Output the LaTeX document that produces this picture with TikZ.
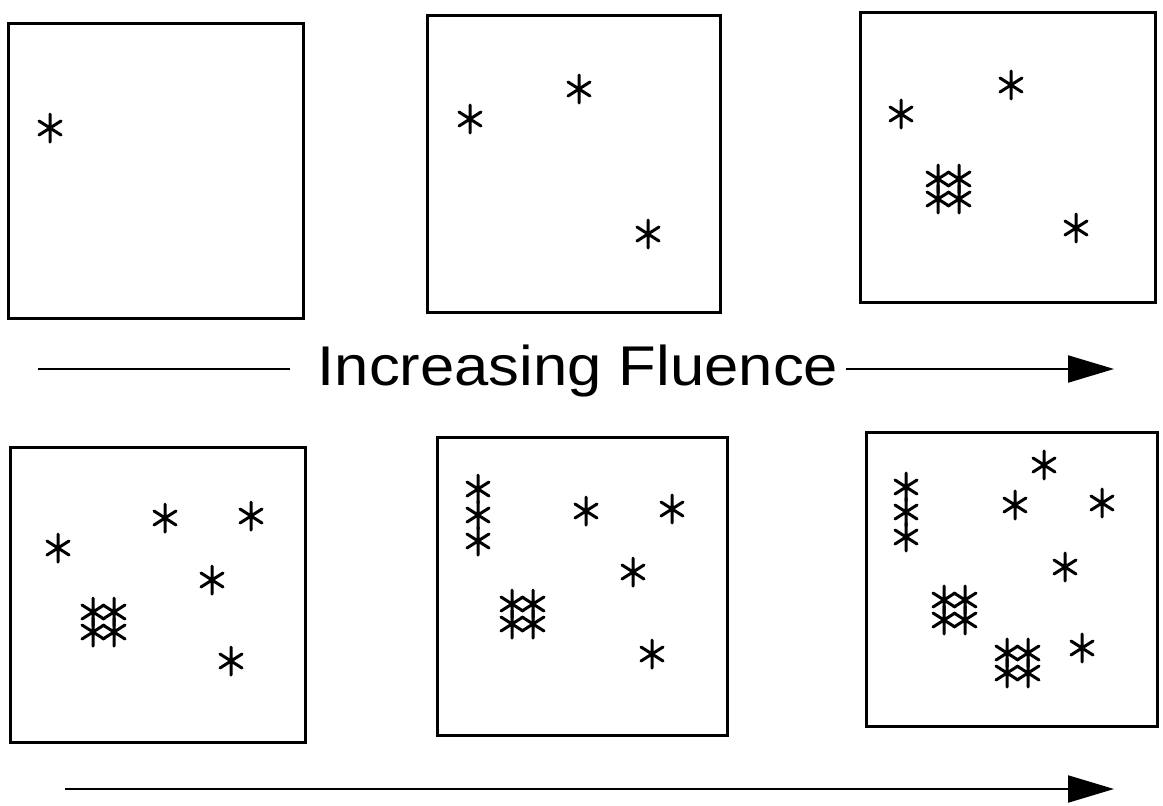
\documentclass[tikz,border=0pt]{standalone}
\usepackage{fontspec}
\setmainfont{Liberation Sans}
\usetikzlibrary{arrows.meta, positioning}

\tikzset{
  panel/.style={line width=3pt},
  ast/.pic={\draw[line width=3pt, line cap=round] (0,-14) -- (0,14) (-11,-7) -- (11,7) (-11,7) -- (11,-7);},
  clump/.pic={\pic at (0,0) {ast}; \pic at (21,0) {ast}; \pic at (0,20) {ast}; \pic at (21,20) {ast};},
  fluence/.style={line width=2.2pt, -{Triangle[length=46pt,width=27pt]}}
}

\begin{document}
\begin{tikzpicture}[x=1pt, y=-1pt]
  \useasboundingbox (0,0) rectangle (1163,806);

  % panels
  \draw[panel] (8,23) rectangle (303,318);
  \draw[panel] (427,15) rectangle (720,312);
  \draw[panel] (860,12) rectangle (1155,302);
  \draw[panel] (10,447) rectangle (305,742);
  \draw[panel] (437,437) rectangle (727,735);
  \draw[panel] (866,432) rectangle (1157,726);

  % single defects
  \pic at (50,128) {ast};
  \foreach \p in {(470,119), (579,89), (648,234)} \pic at \p {ast};
  \foreach \p in {(901,114), (1011,85), (1076,228)} \pic at \p {ast};
  \foreach \p in {(58,548), (165,518), (251,516), (212,580), (231,661)} \pic at \p {ast};
  \foreach \p in {(478,489), (478,515), (478,541), (586,511), (672,509), (633,572), (652,654)} \pic at \p {ast};
  \foreach \p in {(906,487), (906,512), (906,537), (1044,465), (1015,505), (1102,503), (1065,567), (1082,648)} \pic at \p {ast};

  % clusters
  \pic at (938,179) {clump};
  \pic at (93,612) {clump};
  \pic at (512,604) {clump};
  \pic at (944,600) {clump};
  \pic at (1007,653) {clump};

  % fluence arrows
  \node[font=\fontsize{56}{60}\selectfont, inner xsep=8pt, inner ysep=0pt, anchor=base] (label) at (578,385) {\scalebox{1.1}[1]{Increasing Fluence}};
  \coordinate (tail) at (38,369);
  \coordinate (tip) at (1114,369);
  \draw[line width=2.2pt, shorten >=20pt] (tail) -- (tail -| label.west);
  \draw[fluence] (tip -| label.east) -- (tip);

  \coordinate (tail2) at (65,789);
  \coordinate (tip2) at (1114,789);
  \draw[fluence] (tail2) -- (tip2);
\end{tikzpicture}
\end{document}
